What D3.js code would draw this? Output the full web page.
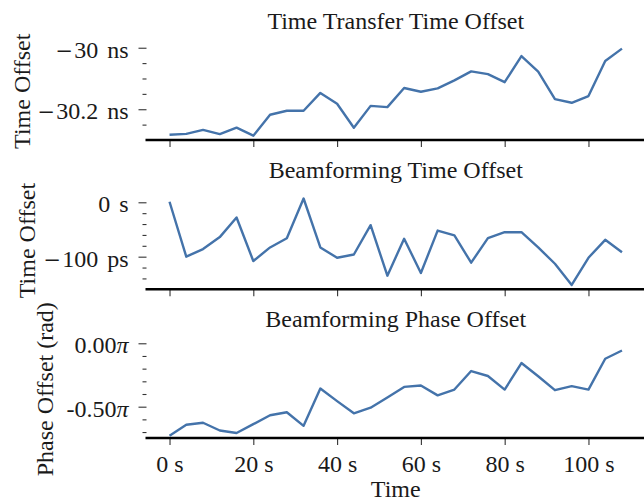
<!DOCTYPE html>
<html>
<head>
<meta charset="utf-8">
<script src="https://cdnjs.cloudflare.com/ajax/libs/d3/7.8.5/d3.min.js"></script>
<style>
  body { margin: 0; background: #fff; }
  svg { display: block; font-family: "Liberation Serif", "DejaVu Serif", serif; }
  text { fill: #1a1a1a; font-size: 24px; }
  .tick line { stroke: #333; stroke-width: 1.1; }
  .ytick text { word-spacing: 3px; }
  .minus { font-family: "DejaVu Serif", serif; font-size: 21px; }
</style>
</head>
<body>
<svg></svg>
<script>

// sample times (s)
var times = [0, 4, 8, 12, 16, 20, 24, 28, 32, 36, 40, 44, 48, 52,
             56, 60, 64, 68, 72, 76, 80, 84, 88, 92, 96, 100, 104, 108];

// time transfer time offset (ns)
var transferOffset = [-30.283, -30.280, -30.267, -30.281, -30.260, -30.286, -30.218, -30.205,
                      -30.205, -30.147, -30.182, -30.260, -30.189, -30.193, -30.131, -30.143,
                      -30.132, -30.106, -30.077, -30.086, -30.112, -30.027, -30.078, -30.167,
                      -30.179, -30.157, -30.043, -30.003];

// beamforming time offset (ps)
var beamTimeOffset = [1, -100, -86, -64, -28, -108, -83, -66, 7, -83, -102, -96, -42, -135,
                      -67, -130, -52, -61, -111, -66, -55, -55, -83, -113, -152, -102, -69, -92];

// beamforming phase offset (units of pi rad)
var beamPhaseOffset = [-0.729, -0.643, -0.627, -0.688, -0.708, -0.638, -0.568, -0.544, -0.651,
                       -0.357, -0.456, -0.552, -0.508, -0.427, -0.344, -0.333, -0.411, -0.365,
                       -0.219, -0.258, -0.365, -0.156, -0.260, -0.370, -0.338, -0.365, -0.122,
                       -0.057];

var titles = ["Time Transfer Time Offset", "Beamforming Time Offset", "Beamforming Phase Offset"];
var yLabels = ["Time Offset", "Time Offset", "Phase Offset (rad)"];

var xTicks = [0, 20, 40, 60, 80, 100];
var xTickLabels = ["0 s", "20 s", "40 s", "60 s", "80 s", "100 s"];

var transferTicks = [-30.2, -30];
var transferTickLabels = ["\u221230.2 ns", "\u221230 ns"];
var transferMinor = [-30.25, -30.15, -30.1, -30.05];

var beamTimeTicks = [-100, 0];
var beamTimeTickLabels = ["\u2212100 ps", "0 s"];
var beamTimeMinor = [-140, -120, -80, -60, -40, -20];

var phaseTicks = [-0.5, 0];
var phaseTickLabels = ["-0.50", "0.00"];
var phaseMinor = [-0.7, -0.6, -0.4, -0.3, -0.2, -0.1];

var width = 644, height = 502;

var svg = d3.select("svg")
    .attr("width", width)
    .attr("height", height);

var x = d3.scaleLinear()
    .domain([-5.4, 113.4])
    .range([146.9, 644.6]);

var panelHeight = 97.5;

var panels = [
  { values: transferOffset, domain: [-30.3, -29.983], bottom: 140,
    ticks: transferTicks, labels: transferTickLabels, minor: transferMinor, labelX: 30 },
  { values: beamTimeOffset, domain: [-160, 19.3], bottom: 289.3,
    ticks: beamTimeTicks, labels: beamTimeTickLabels, minor: beamTimeMinor, labelX: 35 },
  { values: beamPhaseOffset, domain: [-0.747, 0.022], bottom: 438,
    ticks: phaseTicks, labels: phaseTickLabels, minor: phaseMinor, labelX: 53, pi: true }
];

// d3 axes set their own font; drop it so the page font applies
function plainFont(a) {
  a.attr("font-family", null).attr("font-size", null);
  a.select(".domain").remove();
}

panels.forEach(function(p, i) {
  var top = p.bottom - panelHeight;

  var y = d3.scaleLinear()
      .domain(p.domain)
      .range([p.bottom, top]);

  var g = svg.append("g");

  // minor y ticks
  g.append("g")
      .attr("transform", "translate(146.5,0)")
      .call(d3.axisLeft(y).tickValues(p.minor).tickSize(4).tickFormat(""))
      .call(plainFont);

  // major y ticks
  var yAxis = g.append("g")
      .attr("class", "ytick")
      .attr("transform", "translate(146.5,0)")
      .call(d3.axisLeft(y)
          .tickValues(p.ticks)
          .tickSize(8)
          .tickPadding(10)
          .tickFormat(function(d, k) { return p.labels[k]; }))
      .call(plainFont);
  yAxis.selectAll("text")
      .attr("dy", "0.4em")
      .attr("fill", null);

  yAxis.selectAll(".tick text").each(function(d, k) {
    var label = p.labels[k];
    var t = d3.select(this);
    if (label.charAt(0) === "\u2212") {
      // the serif font's minus is short, borrow a wider one
      t.text(null);
      t.append("tspan").attr("class", "minus").text("\u2212");
      t.append("tspan").attr("dx", 1).text(label.slice(1));
    }
    if (p.pi) {
      t.append("tspan").style("font-style", "italic").text("\u03c0");
    }
  });

  // x ticks
  var xAxis = g.append("g")
      .attr("transform", "translate(0," + p.bottom + ")")
      .call(d3.axisBottom(x)
          .tickValues(xTicks)
          .tickSize(7)
          .tickFormat(function(d, k) { return i === 2 ? xTickLabels[k] : ""; }))
      .call(plainFont);
  xAxis.selectAll("text")
      .attr("y", 34)
      .attr("dy", 0)
      .attr("fill", null);

  // thick bottom spine
  g.append("line")
      .attr("x1", 145.5)
      .attr("x2", width)
      .attr("y1", p.bottom)
      .attr("y2", p.bottom)
      .attr("stroke", "#000")
      .attr("stroke-width", 2.6);

  var line = d3.line()
      .x(function(d, k) { return x(times[k]); })
      .y(function(d) { return y(d); });

  g.append("path")
      .datum(p.values)
      .attr("fill", "none")
      .attr("stroke", "#4473aa")
      .attr("stroke-width", 2.4)
      .attr("stroke-linejoin", "round")
      .attr("d", line);

  g.append("text")
      .attr("x", (x.range()[0] + x.range()[1]) / 2)
      .attr("y", top - 14)
      .attr("text-anchor", "middle")
      .text(titles[i]);

  g.append("text")
      .attr("transform", "translate(" + p.labelX + "," + ((top + p.bottom) / 2) + ")rotate(-90)")
      .attr("text-anchor", "middle")
      .text(yLabels[i]);
});

svg.append("text")
    .attr("x", (x.range()[0] + x.range()[1]) / 2)
    .attr("y", 497)
    .attr("text-anchor", "middle")
    .text("Time");

</script>
</body>
</html>
